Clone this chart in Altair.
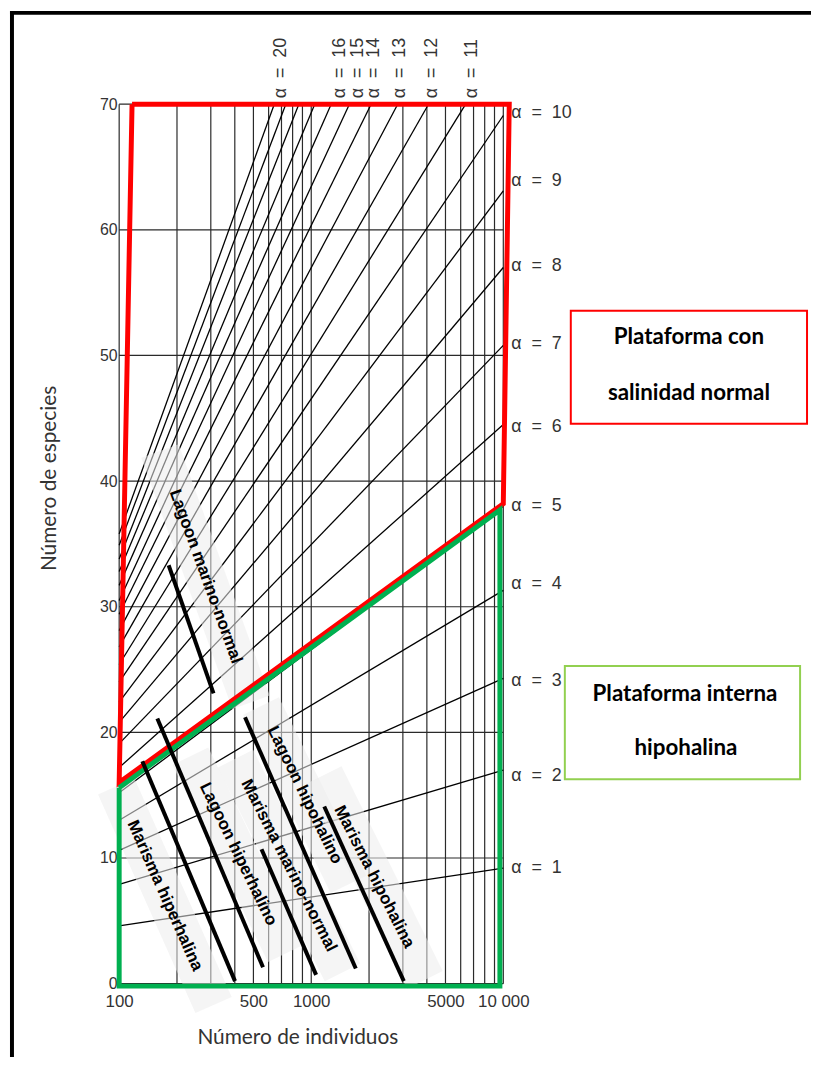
import altair as alt
import pandas as pd

# ---------------- data ----------------
# Fisher alpha isolines: alpha, S at N=100, end point (N, S)
alphas = [1, 2, 3, 4, 5, 6, 7, 8, 9, 10, 11, 12, 13, 14, 15, 16, 17, 18, 19, 20]
start_S = [4.6, 7.9, 10.6, 13.0, 15.2, 17.2, 19.1, 20.8, 22.4, 24.0,
           25.4, 26.8, 28.1, 29.4, 30.5, 31.7, 32.8, 33.8, 34.9, 35.8]
end_N = [10000, 10000, 10000, 10000, 10000, 10000, 10000, 10000, 10000, 10000,
         6370, 4080, 2820, 2050, 1580, 1270, 1043, 862, 737, 642]
end_S = [9.2, 17.0, 24.3, 31.3, 38.0, 44.5, 50.8, 57.0, 63.1, 69.1,
         70, 70, 70, 70, 70, 70, 70, 70, 70, 70]

# alpha labels on the right edge (positions in S)
right_alpha = [10, 9, 8, 7, 6, 5, 4, 3, 2, 1]
right_S = [69.3, 63.9, 57.1, 50.9, 44.3, 38.0, 31.8, 24.1, 16.5, 9.2]
# alpha labels on the top edge (positions in N)
top_alpha = [20, 16, 15, 14, 13, 12, 11]
top_N = [695, 1419, 1758, 2128, 2902, 4246, 6840]

# grid
grid_N = [100, 200, 300, 400, 500, 600, 700, 800, 900, 1000,
          2000, 3000, 4000, 5000, 6000, 7000, 8000, 9000, 10000]
grid_S = [0, 10, 20, 30, 40, 50, 60, 70]
x_ticks = [100, 500, 1000, 5000, 10000]

# environment trend lines
env_names = ["Marisma hiperhalina", "Lagoon hiperhalino", "Marisma marino-normal",
             "Lagoon hipohalino", "Marisma hipohalina", "Lagoon marino-normal"]
env_N1 = [132, 158, 551, 452, 1169, 181]
env_S1 = [17.7, 21.1, 10.7, 21.2, 14.1, 33.3]
env_N2 = [401, 561, 1060, 1706, 3034, 310]
env_S2 = [0.2, 1.3, 0.7, 1.2, 0.2, 23.1]
# label centres and angles
lab_N = [173, 417, 765, 925, 2128, 282]
lab_S = [7.0, 10.3, 9.4, 15.0, 8.5, 32.4]
lab_ang = [66, 64, 63, 64, 63, 70]
# faint bands behind labels
band_N1 = [96.5, 235, 403, 548, 1161, 163]
band_S1 = [15.7, 18.1, 17.9, 22.1, 16.6, 42.4]
band_N2 = [310, 738, 1455, 1563, 3908, 486]
band_S2 = [-1.7, 2.4, 0.9, 7.9, 0.3, 22.4]

# regions
red_N = [116.7, 10740, 10000, 100, 116.7]
red_S = [70, 70, 38.2, 16.0, 70]
green_N = [100, 9600, 9600, 100, 100]
green_S = [15.6, 37.7, -0.2, -0.2, 15.6]

# ---------------- tables ----------------
iso = pd.DataFrame(
    [{"alpha": a, "N": 100, "S": s0} for a, s0 in zip(alphas, start_S)] +
    [{"alpha": a, "N": n1, "S": s1} for a, n1, s1 in zip(alphas, end_N, end_S)]
)
vgrid = pd.DataFrame({"N": grid_N})
hgrid = pd.DataFrame({"S": grid_S})
env = pd.DataFrame({"name": env_names, "N": env_N1, "S": env_S1, "N2": env_N2, "S2": env_S2})
labs = pd.DataFrame({"name": env_names, "N": lab_N, "S": lab_S, "ang": lab_ang})
bands = pd.DataFrame({"N": band_N1, "S": band_S1, "N2": band_N2, "S2": band_S2})
red = pd.DataFrame({"i": list(range(len(red_N))), "N": red_N, "S": red_S})
green = pd.DataFrame({"i": list(range(len(green_N))), "N": green_N, "S": green_S})
ralpha = pd.DataFrame({"t": [f"α\u00a0\u00a0=\u00a0\u00a0{a}" for a in right_alpha],
                       "N": [10000] * len(right_alpha), "S": right_S})
talpha = pd.DataFrame({"t": [f"α\u00a0\u00a0=\u00a0\u00a0{a}" for a in top_alpha], "N": top_N})

W, H = 387, 886
xs = alt.Scale(type="log", domain=[100, 10000])
ys = alt.Scale(domain=[0, 70])
xaxis = alt.Axis(values=x_ticks, labelExpr="datum.value == 10000 ? '10 000' : datum.value",
                 title=None, domain=False, ticks=False, grid=False, labelPadding=10,
                 labelFontSize=17, labelFont="Liberation Sans", labelColor="#333",
                 labelFlush=False)
yaxis = alt.Axis(values=grid_S, title=None, domain=False, ticks=False, grid=False,
                 labelPadding=2, labelFontSize=16, labelFont="Liberation Sans",
                 labelColor="#333")


def X(f="N"):
    return alt.X(f"{f}:Q", scale=xs, axis=xaxis)


def Y(f="S"):
    return alt.Y(f"{f}:Q", scale=ys, axis=yaxis)


layers = []
layers.append(alt.Chart(vgrid).mark_rule(color="#2a2a2a", strokeWidth=1.2).encode(
    x=X(), y=alt.value(0), y2=alt.value(H)))
layers.append(alt.Chart(hgrid).mark_rule(color="#2a2a2a", strokeWidth=1.2).encode(
    y=Y(), x=alt.value(0), x2=alt.value(W)))
layers.append(alt.Chart(iso).mark_line(color="#000", strokeWidth=1.3).encode(
    x=X(), y=Y(), detail="alpha:N"))
layers.append(alt.Chart(bands).mark_rule(color="#ededed", opacity=0.55, strokeWidth=40,
                                         strokeCap="butt").encode(
    x=X(), y=Y(), x2="N2:Q", y2="S2:Q"))
layers.append(alt.Chart(red).mark_line(color="#FF0000", strokeWidth=5, strokeJoin="miter").encode(
    x=X(), y=Y(), order="i:Q"))
layers.append(alt.Chart(green).mark_line(color="#00B050", strokeWidth=5, strokeJoin="miter").encode(
    x=X(), y=Y(), order="i:Q"))
layers.append(alt.Chart(env).mark_rule(color="black", strokeWidth=4, strokeCap="butt").encode(
    x=X(), y=Y(), x2="N2:Q", y2="S2:Q"))
layers.append(alt.Chart(labs).mark_text(font="Liberation Sans", fontSize=17, fontWeight="bold",
                                        color="black", align="center",
                                        baseline="middle").encode(
    x=X(), y=Y(), text="name:N", angle=alt.Angle("ang:Q", scale=None)))
layers.append(alt.Chart(ralpha).mark_text(font="Liberation Sans", fontSize=18, color="#333",
                                          align="left", baseline="middle", dx=8).encode(
    x=X(), y=Y(), text="t:N"))
layers.append(alt.Chart(talpha).mark_text(font="Liberation Sans", fontSize=18, color="#333",
                                          align="left", baseline="middle", angle=270).encode(
    x=X(), y=alt.value(-6), text="t:N"))

# boxes on the right
box_df = pd.DataFrame({"k": [0]})
layers.append(alt.Chart(box_df).mark_rect(fill=None, stroke="#FF0000", strokeWidth=2).encode(
    x=alt.value(455), x2=alt.value(693), y=alt.value(208), y2=alt.value(322)))
layers.append(alt.Chart(box_df).mark_rect(fill=None, stroke="#92D050", strokeWidth=2).encode(
    x=alt.value(449), x2=alt.value(686), y=alt.value(566), y2=alt.value(680)))
box_text = pd.DataFrame({
    "t": ["Plataforma con", "salinidad normal", "Plataforma interna", "hipohalina"],
    "px": [574, 574, 570, 571],
    "py": [235, 291, 594, 649],
})
layers.append(alt.Chart(box_text).mark_text(font="Lato", fontWeight="bold", fontSize=22.5,
                                            color="black", align="center",
                                            baseline="middle").encode(
    x=alt.X("px:Q", scale=None), y=alt.Y("py:Q", scale=None), text="t:N"))

# axis titles
layers.append(alt.Chart(box_df).mark_text(text="Número de individuos", font="Lato", fontSize=21,
                                          color="#333", align="center",
                                          baseline="alphabetic").encode(
    x=alt.value(180), y=alt.value(947)))
layers.append(alt.Chart(box_df).mark_text(text="Número de especies", font="Lato", fontSize=21,
                                          color="#333", align="center", baseline="middle",
                                          angle=270).encode(
    x=alt.value(-70), y=alt.value(377)))

# outer frame (top and left)
layers.append(alt.Chart(box_df).mark_rule(color="black", strokeWidth=4).encode(
    x=alt.value(-110), x2=alt.value(700), y=alt.value(-92)))
layers.append(alt.Chart(box_df).mark_rule(color="black", strokeWidth=4).encode(
    x=alt.value(-108), y=alt.value(-94), y2=alt.value(960)))

chart = alt.layer(*layers).properties(
    width=W, height=H,
    autosize=alt.AutoSizeParams(type="none"),
    padding={"left": 112, "top": 93, "right": 310, "bottom": 70},
).configure_view(stroke=None).resolve_scale(x="shared", y="shared")

chart.save("out.html", embed_options={"renderer": "svg", "actions": False})
